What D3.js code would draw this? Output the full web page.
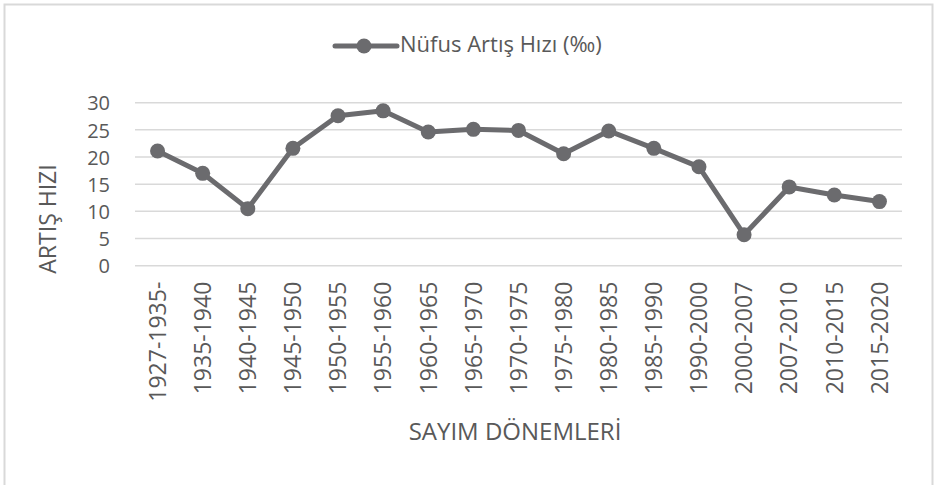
<!DOCTYPE html>
<html>
<head>
<meta charset="utf-8">
<script src="https://cdn.jsdelivr.net/npm/d3@7"></script>
<style>
  body { margin: 0; background: #fff; }
  text { font-family: "Open Sans", sans-serif; fill: #595959; }
</style>
</head>
<body>
<div id="chart"></div>
<script>
// Data
var periods = ["1927-1935-", "1935-1940", "1940-1945", "1945-1950", "1950-1955", "1955-1960",
  "1960-1965", "1965-1970", "1970-1975", "1975-1980", "1980-1985", "1985-1990",
  "1990-2000", "2000-2007", "2007-2010", "2010-2015", "2015-2020"];
var rates = [21.1, 17.0, 10.5, 21.6, 27.6, 28.5, 24.6, 25.1, 24.9, 20.6, 24.8, 21.6,
  18.2, 5.7, 14.5, 13.0, 11.8];
var yTicks = [0, 5, 10, 15, 20, 25, 30];
var seriesName = "Nüfus Artış Hızı (‰)";

var width = 935, height = 485;
var lineColor = "#6b6b6e";

var svg = d3.select("#chart").append("svg")
    .attr("width", width)
    .attr("height", height);

// chart frame
svg.append("rect")
    .attr("x", 4.5).attr("y", 4.5)
    .attr("width", 928).attr("height", 500)
    .attr("fill", "none")
    .attr("stroke", "#d9d9d9")
    .attr("stroke-width", 2);

var x = d3.scaleBand()
    .domain(periods)
    .range([135, 902]);

var y = d3.scaleLinear()
    .domain([0, 30])
    .range([265.7, 102.7]);

// gridlines
svg.append("g")
  .selectAll("line")
  .data(yTicks)
  .enter().append("line")
    .attr("x1", 135).attr("x2", 902)
    .attr("y1", function(d) { return y(d); })
    .attr("y2", function(d) { return y(d); })
    .attr("stroke", "#d9d9d9")
    .attr("stroke-width", 1.5);

// y axis labels
var yAxis = svg.append("g")
    .attr("transform", "translate(135,0)")
    .call(d3.axisLeft(y).tickValues(yTicks).tickSize(0).tickPadding(25));
yAxis.select(".domain").remove();
yAxis.selectAll("text")
    .style("font-size", "20px")
    .attr("fill", "#595959")
    .attr("dy", "0.36em");

// x axis labels (rotated)
var xAxis = svg.append("g")
    .attr("transform", "translate(0,265.7)")
    .call(d3.axisBottom(x).tickSize(0).tickPadding(0));
xAxis.select(".domain").remove();
xAxis.selectAll("text")
    .style("font-size", "23px")
    .attr("fill", "#595959")
    .attr("text-anchor", "end")
    .attr("transform", "translate(0,16) rotate(-90)")
    .attr("x", 0)
    .attr("y", 0)
    .attr("dy", "0.36em");

// line
var line = d3.line()
    .x(function(d, i) { return x(periods[i]) + x.bandwidth() / 2; })
    .y(function(d) { return y(d); });

svg.append("path")
    .datum(rates)
    .attr("d", line)
    .attr("fill", "none")
    .attr("stroke", lineColor)
    .attr("stroke-width", 5)
    .attr("stroke-linejoin", "round");

svg.append("g")
  .selectAll("circle")
  .data(rates)
  .enter().append("circle")
    .attr("cx", function(d, i) { return x(periods[i]) + x.bandwidth() / 2; })
    .attr("cy", function(d) { return y(d); })
    .attr("r", 7.5)
    .attr("fill", lineColor);

// legend
var legend = svg.append("g").attr("transform", "translate(335,46)");
legend.append("line")
    .attr("x1", 0).attr("x2", 62)
    .attr("stroke", lineColor)
    .attr("stroke-width", 5)
    .attr("stroke-linecap", "round");
legend.append("circle")
    .attr("cx", 29).attr("r", 7.5)
    .attr("fill", lineColor);
legend.append("text")
    .attr("x", 65).attr("y", -2).attr("dy", "0.36em")
    .style("font-size", "22px")
    .text(seriesName);

// axis titles
svg.append("text")
    .attr("transform", "translate(48,219) rotate(-90)")
    .attr("text-anchor", "middle")
    .attr("dy", "0.36em")
    .style("font-size", "23px")
    .text("ARTIŞ HIZI");

svg.append("text")
    .attr("x", 515).attr("y", 440)
    .attr("text-anchor", "middle")
    .style("font-size", "24px")
    .text("SAYIM DÖNEMLERİ");
</script>
</body>
</html>
